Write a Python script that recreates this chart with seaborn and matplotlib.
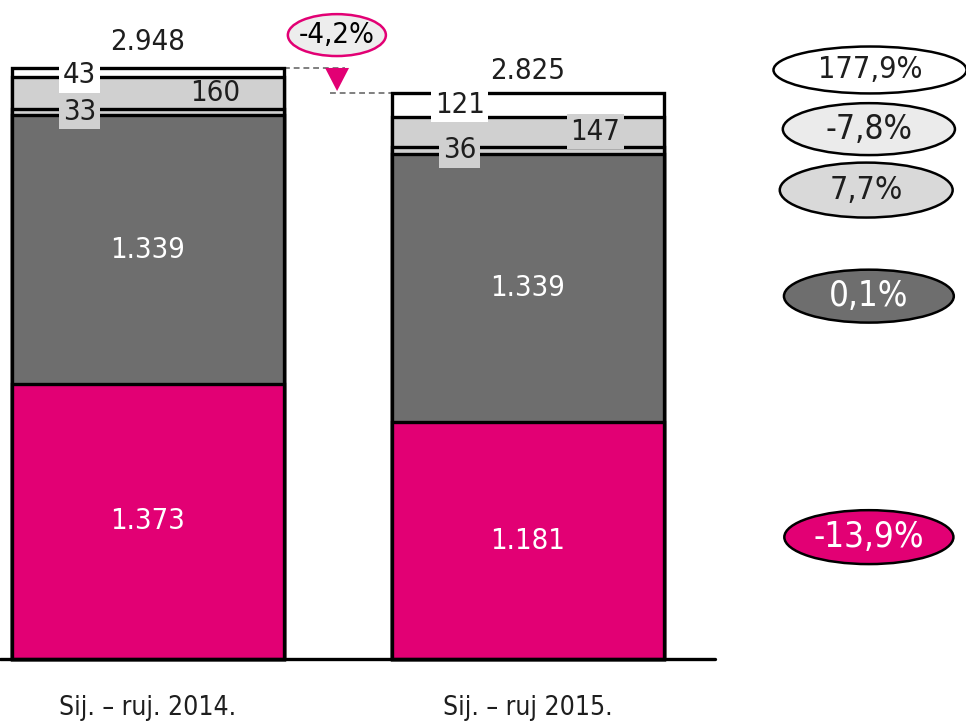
import matplotlib
matplotlib.use("Agg")
import matplotlib.pyplot as plt
from matplotlib.patches import Ellipse, Polygon
import numpy as np
import pandas as pd
import seaborn as sns

# data (bottom -> top)
periods = ["Sij. – ruj. 2014.", "Sij. – ruj 2015."]
seg_magenta = [1373, 1181]
seg_dark = [1339, 1339]
seg_light_a = [33, 36]
seg_light_b = [160, 147]
seg_white = [43, 121]
totals = [2948, 2825]
seg_labels = [["1.373", "1.339", "33", "160", "43"],
              ["1.181", "1.339", "36", "147", "121"]]
total_labels = ["2.948", "2.825"]
change_labels = ["177,9%", "-7,8%", "7,7%", "0,1%", "-13,9%"]
total_change = "-4,2%"

MAGENTA = "#E20074"
DARK = "#6E6E6E"
LIGHT = "#D0D0D0"

sns.set_theme(style="white")
plt.rcParams["font.family"] = ["DejaVu Sans"]
plt.rcParams["font.stretch"] = "condensed"

fig = plt.figure(figsize=(9.66, 7.24), dpi=100)
ax = fig.add_axes([0, 0, 1, 1])

segs = np.array([seg_magenta, seg_dark, seg_light_a, seg_light_b, seg_white])
cum = segs.cumsum(axis=0)
colors = [MAGENTA, DARK, LIGHT, LIGHT, "white"]

# stacked bars drawn as overlapping cumulative bars, tallest first
for i in range(len(segs) - 1, -1, -1):
    df = pd.DataFrame({"period": periods, "value": cum[i]})
    sns.barplot(data=df, x="period", y="value", color=colors[i], saturation=1,
                width=0.715, edgecolor="black", linewidth=2.4, ax=ax, zorder=2)

W = 0.715
ax.set_xlim(-0.3895, 2.1526)
ax.set_ylim(-324, 3287)
ax.axis("off")

# baseline
ax.plot([-0.3895, 1.492], [0, 0], color="black", lw=2.4, zorder=3,
        clip_on=False)

fs = 21
tc = "#1E1E1E"
for b in range(2):
    mids = cum[:, b] - segs[:, b] / 2
    # big segments
    ax.text(b, mids[0], seg_labels[b][0], color="white", fontsize=fs,
            ha="center", va="center", zorder=5)
    ax.text(b, mids[1], seg_labels[b][1], color="white", fontsize=fs,
            ha="center", va="center", zorder=5)
    # small segments
    ax.text(b - 0.18, mids[2], seg_labels[b][2], color=tc, fontsize=fs,
            ha="center", va="center", zorder=5,
            bbox=dict(boxstyle="square,pad=0.12", fc=LIGHT, ec="none"))
    box_b = None if b == 0 else dict(boxstyle="square,pad=0.12", fc=LIGHT, ec="none")
    ax.text(b + 0.177, mids[3], seg_labels[b][3], color=tc, fontsize=fs,
            ha="center", va="center", zorder=5, bbox=box_b)
    ax.text(b - 0.18, mids[4] - (15 if b == 0 else 0), seg_labels[b][4],
            color=tc, fontsize=fs, ha="center", va="center", zorder=5,
            bbox=dict(boxstyle="square,pad=0.12", fc="white", ec="none"))
    ax.text(b, totals[b] + (130 if b == 0 else 108), total_labels[b],
            color=tc, fontsize=fs, ha="center", va="center", zorder=5)
    ax.text(b, -245, periods[b], color=tc, fontsize=19,
            ha="center", va="center")

# total change marker
x_r = W / 2
ax.plot([x_r, 0.518], [totals[0], totals[0]], ls=(0, (3, 2)), color="#7F7F7F",
        lw=1.4, zorder=1)
ax.plot([0.479, 1 - x_r], [totals[1], totals[1]], ls=(0, (3, 2)),
        color="#7F7F7F", lw=1.4, zorder=1)
ax.add_patch(Polygon([[0.466, totals[0]], [0.529, totals[0]],
                      [0.4975, totals[1] + 8]], closed=True, fc=MAGENTA,
                     ec="none", zorder=4))
ax.add_patch(Ellipse((0.497, 3112), 0.258, 209, fc="#EDEDED", ec=MAGENTA,
                     lw=1.8, zorder=4))
ax.text(0.497, 3112, total_change, color="black", fontsize=fs, ha="center",
        va="center", zorder=5, fontweight="medium")

# change ellipses
ell_y = [2938, 2643, 2339, 1810, 608]
ell_x = [1.9, 1.897, 1.89, 1.897, 1.897]
ell_w = [0.508, 0.453, 0.455, 0.447, 0.445]
ell_h = [234, 259, 274, 264, 269]
ell_fc = ["white", "#EBEBEB", "#D9D9D9", DARK, MAGENTA]
ell_tc = [tc, tc, tc, "white", "white"]
ell_fs = [22, 24, 23, 25, 25]
for k in range(5):
    ax.add_patch(Ellipse((ell_x[k], ell_y[k]), ell_w[k], ell_h[k],
                         fc=ell_fc[k], ec="black", lw=1.8, zorder=4))
    ax.text(ell_x[k], ell_y[k], change_labels[k], color=ell_tc[k],
            fontsize=ell_fs[k], ha="center", va="center", zorder=5)

fig.savefig("out.png", dpi=100)
